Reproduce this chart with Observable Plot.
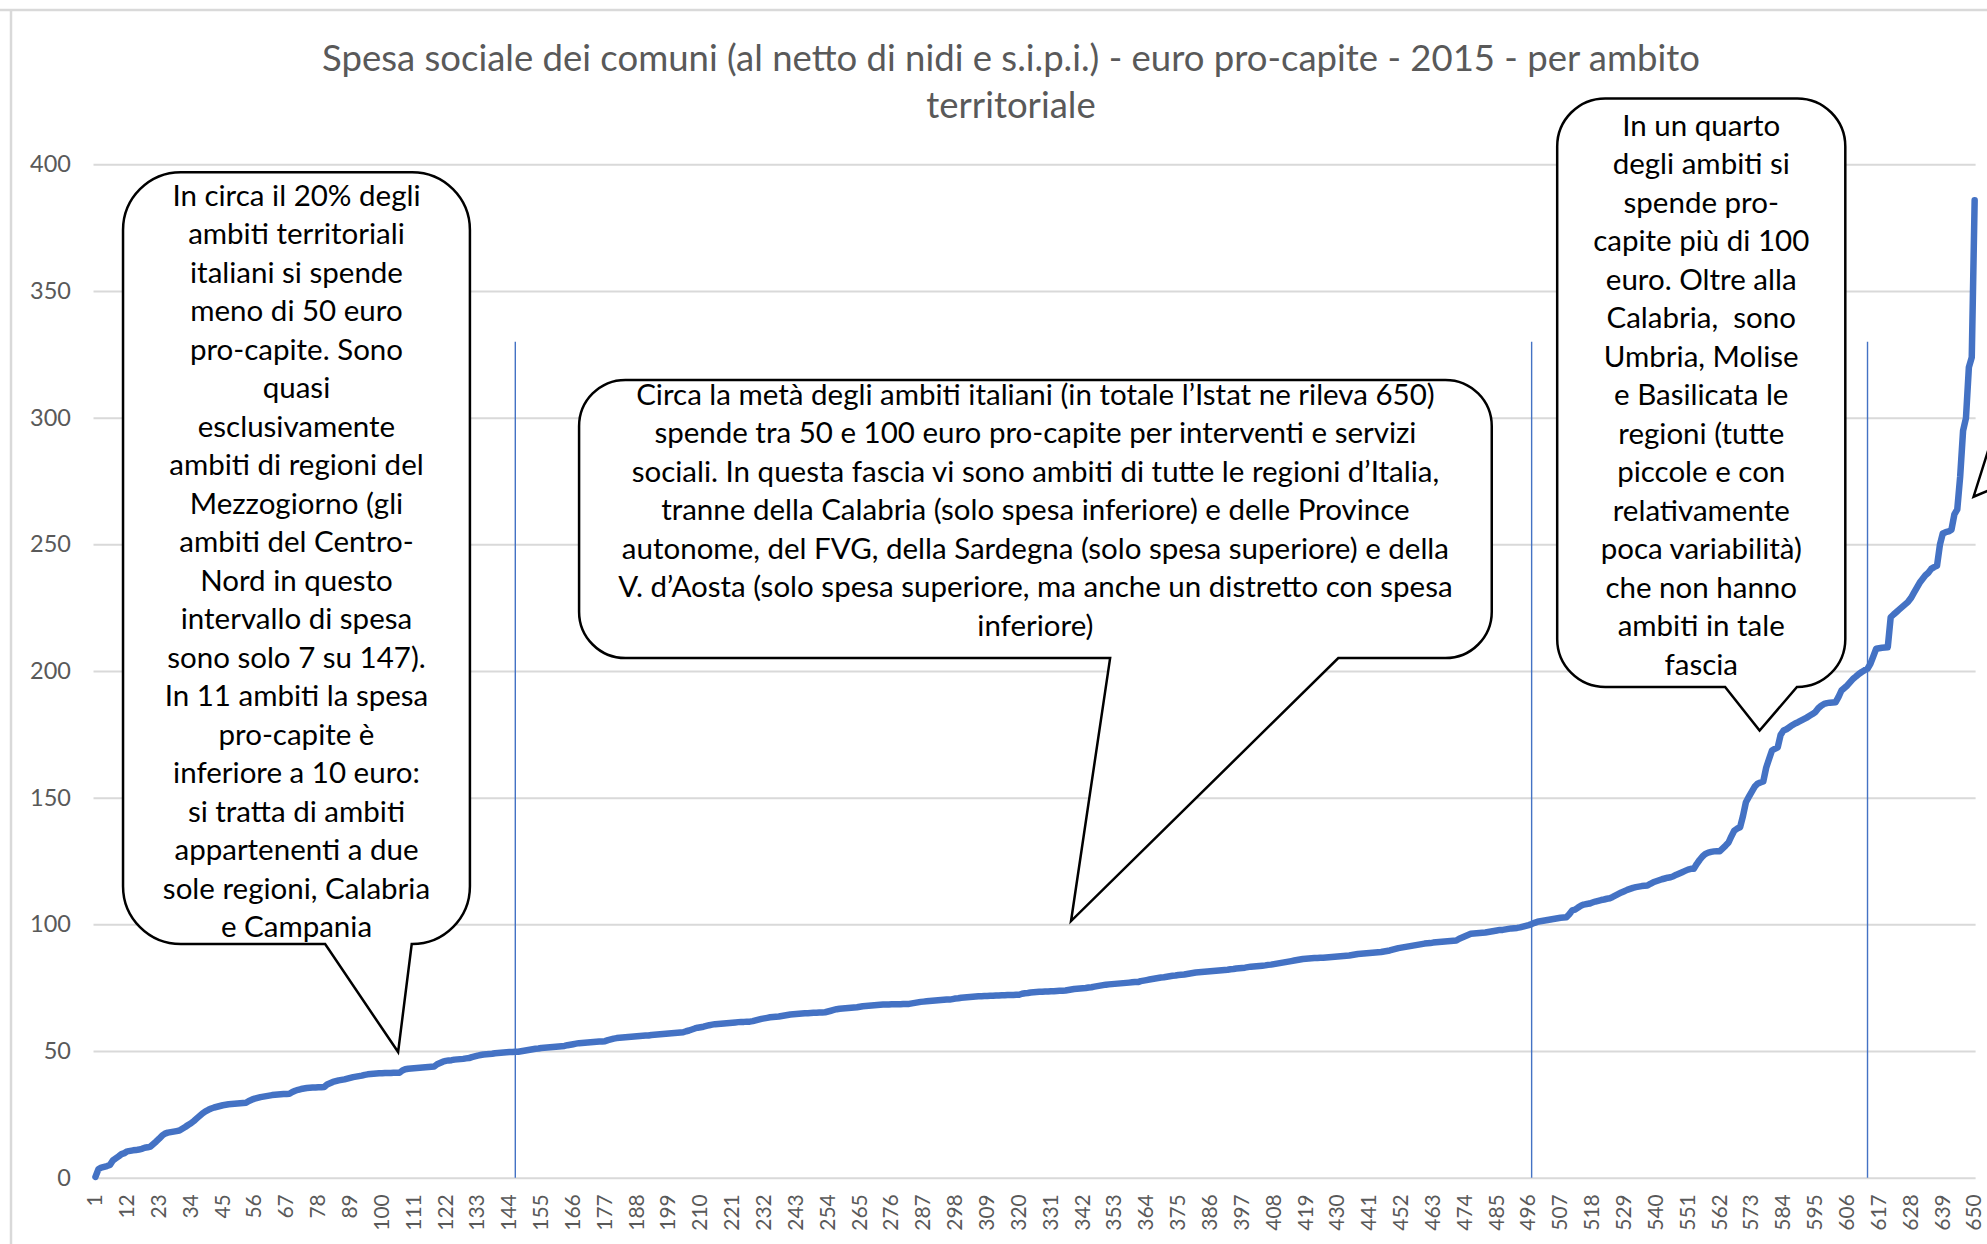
<!DOCTYPE html>
<html>
<head>
<meta charset="utf-8">
<script src="https://cdn.jsdelivr.net/npm/d3@7"></script>
<script src="https://cdn.jsdelivr.net/npm/@observablehq/plot@0.6"></script>
<style>
  html, body { margin: 0; padding: 0; background: #fff; }
  svg { display: block; }
</style>
</head>
<body>
<div id="chart"></div>
<script>
// Spesa sociale pro-capite per ambito territoriale (ordinati in modo crescente)
const spesa = [
  0.5, 3.5, 4.2, 4.5, 4.8, 5.2, 7.0, 7.8, 8.6, 9.5,
  9.9, 10.6, 10.8, 11.0, 11.1, 11.3, 11.6, 12.0, 12.2, 12.5,
  13.5, 14.5, 15.6, 16.8, 17.6, 18.0, 18.2, 18.4, 18.6, 18.8,
  19.5, 20.2, 21.0, 21.7, 22.6, 23.6, 24.6, 25.6, 26.4, 27.0,
  27.5, 27.9, 28.2, 28.5, 28.8, 29.0, 29.2, 29.3, 29.4, 29.5,
  29.6, 29.7, 29.8, 30.5, 31.0, 31.4, 31.7, 32.0, 32.2, 32.4,
  32.6, 32.8, 32.9, 33.0, 33.1, 33.2, 33.2, 33.3, 34.0, 34.5,
  34.9, 35.2, 35.4, 35.6, 35.7, 35.8, 35.8, 35.9, 35.9, 36.0,
  37.0, 37.5, 38.0, 38.3, 38.6, 38.8, 39.0, 39.3, 39.6, 39.9,
  40.1, 40.3, 40.5, 40.8, 41.0, 41.1, 41.2, 41.3, 41.4, 41.4,
  41.5, 41.5, 41.5, 41.6, 41.6, 41.6, 42.5, 43.0, 43.2, 43.3,
  43.4, 43.5, 43.6, 43.7, 43.8, 43.9, 44.0, 44.1, 45.0, 45.5,
  46.0, 46.3, 46.5, 46.6, 46.8, 46.9, 47.0, 47.1, 47.3, 47.4,
  47.8, 48.1, 48.4, 48.6, 48.8, 48.9, 49.0, 49.1, 49.3, 49.4,
  49.5, 49.6, 49.7, 49.8, 49.8, 49.9, 49.9, 50.1, 50.3, 50.5,
  50.7, 50.9, 51.1, 51.2, 51.4, 51.5, 51.6, 51.7, 51.8, 51.9,
  52.0, 52.1, 52.2, 52.5, 52.7, 52.9, 53.1, 53.3, 53.4, 53.5,
  53.6, 53.7, 53.8, 53.9, 54.0, 54.0, 54.1, 54.5, 54.8, 55.1,
  55.3, 55.4, 55.5, 55.6, 55.7, 55.8, 55.9, 56.0, 56.1, 56.2,
  56.3, 56.3, 56.5, 56.6, 56.7, 56.8, 56.9, 57.0, 57.1, 57.2,
  57.3, 57.4, 57.5, 57.6, 58.0, 58.3, 58.7, 59.1, 59.4, 59.6,
  59.8, 60.1, 60.4, 60.6, 60.8, 60.9, 61.0, 61.1, 61.2, 61.3,
  61.4, 61.5, 61.6, 61.7, 61.7, 61.8, 61.8, 62.0, 62.3, 62.6,
  62.9, 63.1, 63.3, 63.5, 63.6, 63.7, 63.8, 64.0, 64.2, 64.4,
  64.6, 64.7, 64.8, 64.9, 65.0, 65.1, 65.1, 65.2, 65.3, 65.3,
  65.4, 65.4, 65.5, 65.8, 66.1, 66.4, 66.7, 66.9, 67.0, 67.1,
  67.2, 67.3, 67.4, 67.5, 67.7, 67.9, 68.0, 68.1, 68.2, 68.3,
  68.4, 68.5, 68.6, 68.6, 68.6, 68.7, 68.7, 68.7, 68.7, 68.8,
  68.8, 68.8, 69.0, 69.2, 69.4, 69.6, 69.7, 69.8, 69.9, 70.0,
  70.1, 70.2, 70.3, 70.4, 70.5, 70.5, 70.7, 70.9, 71.0, 71.2,
  71.3, 71.4, 71.5, 71.6, 71.7, 71.8, 71.8, 71.9, 71.9, 72.0,
  72.0, 72.1, 72.1, 72.2, 72.2, 72.3, 72.3, 72.3, 72.4, 72.4,
  72.8, 73.0, 73.1, 73.3, 73.4, 73.5, 73.6, 73.6, 73.7, 73.7,
  73.8, 73.8, 73.9, 74.0, 74.0, 74.1, 74.3, 74.5, 74.7, 74.8,
  74.9, 75.0, 75.1, 75.3, 75.4, 75.6, 75.8, 76.0, 76.2, 76.4,
  76.5, 76.6, 76.7, 76.8, 76.9, 77.0, 77.1, 77.2, 77.3, 77.4,
  77.4, 77.8, 78.0, 78.2, 78.4, 78.6, 78.8, 79.0, 79.2, 79.3,
  79.5, 79.7, 79.9, 80.0, 80.2, 80.3, 80.4, 80.6, 80.8, 81.0,
  81.2, 81.3, 81.4, 81.5, 81.6, 81.7, 81.8, 81.9, 82.0, 82.1,
  82.2, 82.3, 82.5, 82.6, 82.8, 82.9, 83.0, 83.1, 83.3, 83.5,
  83.6, 83.7, 83.8, 83.9, 84.0, 84.2, 84.3, 84.5, 84.7, 84.9,
  85.1, 85.3, 85.5, 85.7, 85.9, 86.1, 86.3, 86.5, 86.6, 86.7,
  86.8, 86.9, 86.9, 87.0, 87.0, 87.1, 87.2, 87.3, 87.4, 87.5,
  87.6, 87.7, 87.8, 87.9, 88.1, 88.3, 88.5, 88.6, 88.7, 88.8,
  88.9, 89.0, 89.1, 89.2, 89.3, 89.5, 89.7, 89.9, 90.2, 90.5,
  90.8, 91.0, 91.2, 91.4, 91.6, 91.8, 92.0, 92.2, 92.4, 92.6,
  92.7, 92.8, 93.0, 93.1, 93.2, 93.3, 93.4, 93.5, 93.6, 93.7,
  93.8, 94.5, 95.0, 95.5, 96.0, 96.5, 96.6, 96.7, 96.8, 96.9,
  97.0, 97.2, 97.4, 97.6, 97.8, 98.0, 98.0, 98.2, 98.4, 98.6,
  98.7, 98.8, 99.0, 99.3, 99.6, 99.9, 100.3, 100.8, 101.2, 101.4,
  101.6, 101.8, 102.0, 102.2, 102.4, 102.6, 102.8, 102.9, 103.0, 104.2,
  105.7, 106.0, 106.8, 107.5, 108.0, 108.2, 108.4, 108.8, 109.2, 109.5,
  109.8, 110.0, 110.3, 110.5, 111.0, 111.6, 112.2, 112.8, 113.3, 113.8,
  114.2, 114.6, 114.9, 115.1, 115.3, 115.4, 115.5, 116.2, 116.8, 117.2,
  117.6, 118.0, 118.3, 118.6, 118.8, 119.2, 119.8, 120.3, 120.8, 121.3,
  121.8, 122.1, 122.1, 124.0, 125.6, 127.0, 128.0, 128.5, 128.8, 129.0,
  129.1, 129.1, 130.2, 131.3, 132.5, 135.0, 137.2, 138.0, 138.5, 143.0,
  148.4, 150.5, 152.5, 154.5, 155.7, 156.2, 156.6, 162.0, 165.5, 168.8,
  169.5, 170.1, 175.0, 176.7, 177.2, 178.0, 178.8, 179.5, 180.0, 180.6,
  181.2, 181.8, 182.5, 183.2, 184.0, 185.5, 186.5, 187.2, 187.5, 187.7,
  187.8, 187.9, 190.0, 192.5, 193.5, 194.5, 195.8, 197.1, 198.0, 199.0,
  199.8, 200.5, 201.1, 203.0, 206.0, 209.0, 209.2, 209.4, 209.5, 209.6,
  221.4, 222.5, 223.5, 224.5, 225.5, 226.5, 227.5, 229.0, 231.0, 233.0,
  235.0, 236.5, 238.0, 239.0, 240.5, 241.2, 241.7, 250.0, 254.5, 255.0,
  255.3, 256.0, 262.0, 264.0, 277.0, 295.0, 300.0, 320.0, 324.0, 386.0
];
const ambiti = spesa.map((_, i) => i + 1);

// Tick labels
const xTicks = d3.range(1, 651, 11);   // 1, 12, 23, ..., 650
const yTicks = d3.range(0, 401, 50);   // 0 .. 400

// Vertical separator lines (ambito index) and their top (euro)
const separatori = [146, 497, 613];
const separatoriTop = 330;

const titolo = [
  "Spesa sociale dei comuni (al netto di nidi e s.i.p.i.) - euro pro-capite - 2015 - per ambito",
  "territoriale"
];

// Callouts: box in data units [ambito0, ambito1, euroBottom, euroTop], pointer base (ambito) and tip (ambito, euro)
const callouts = [
  {
    box: [10.7, 130.5, 92.2, 396.9], base: [80.5, 110.4], tip: [105.7, 49.6], dy: 3,
    lines: ["In circa il 20% degli", "ambiti territoriali", "italiani si spende", "meno di 50 euro",
      "pro-capite. Sono", "quasi", "esclusivamente", "ambiti di regioni del", "Mezzogiorno (gli",
      "ambiti del Centro-", "Nord in questo", "intervallo di spesa", "sono solo 7 su 147).",
      "In 11 ambiti la spesa", "pro-capite è", "inferiore a 10 euro:", "si tratta di ambiti",
      "appartenenti a due", "sole regioni, Calabria", "e Campania"]
  },
  {
    box: [168.2, 483.4, 205.1, 314.9], base: [351.6, 430.4], tip: [338.1, 101.3], dy: -9,
    lines: ["Circa la metà degli ambiti italiani (in totale l’Istat ne rileva 650)",
      "spende tra 50 e 100 euro pro-capite per interventi e servizi",
      "sociali. In questa fascia vi sono ambiti di tutte le regioni d’Italia,",
      "tranne della Calabria (solo spesa inferiore) e delle Province",
      "autonome, del FVG, della Sardegna (solo spesa superiore) e della",
      "V. d’Aosta (solo spesa superiore, ma anche un distretto con spesa",
      "inferiore)"]
  },
  {
    box: [506, 605.5, 193.7, 426], base: [564, 588.8], tip: [575.9, 176.5], dy: 2,
    lines: ["In un quarto", "degli ambiti si", "spende pro-", "capite più di 100", "euro. Oltre alla",
      "Calabria,  sono", "Umbria, Molise", "e Basilicata le", "regioni (tutte", "piccole e con",
      "relativamente", "poca variabilità)", "che non hanno", "ambiti in tale", "fascia"]
  }
];
// Partially visible callout beyond the right edge (pointer on its left side)
const calloutDestra = { box: [655.6, 760, 150, 380], base: [289.8, 271.6], tip: [649.8, 268.8] };

const dati = ambiti.map((a, i) => ({ambito: a, spesa: spesa[i]}));

const W = 1987, H = 1244;
const plot = Plot.plot({
  width: W,
  height: H,
  marginLeft: 93.5,
  marginRight: 11.4,
  marginTop: 164.3,
  marginBottom: 66.3,
  style: {fontFamily: "Lato, 'Open Sans', sans-serif", background: "#fff", overflow: "hidden"},
  x: {domain: [0.5, 650.5], axis: null},
  y: {domain: [0, 400], axis: null},
  marks: [
    Plot.gridY(yTicks, {stroke: "#d9d9d9", strokeOpacity: 1, strokeWidth: 2}),
    Plot.axisY(yTicks, {tickSize: 0, tickPadding: 23, fontSize: 23.5, color: "#595959", label: null}),
    Plot.axisX(xTicks, {tickSize: 0, tickRotate: -90, tickPadding: 16, fontSize: 21, color: "#595959", label: null}),
    Plot.ruleX(separatori, {y1: 0, y2: separatoriTop, stroke: "#4472C4", strokeWidth: 1.4}),
    Plot.line(dati, {x: "ambito", y: "spesa", stroke: "#4472C4", strokeWidth: 6.5, strokeLinejoin: "round", strokeLinecap: "round"})
  ]
});

document.getElementById("chart").appendChild(plot);

const xs = plot.scale("x"), ys = plot.scale("y");
const svg = d3.select(plot);

// chart area border (top and left)
svg.insert("path", ":first-child")
  .attr("d", `M0,10 H${W} M11,10 V${H}`)
  .attr("fill", "none").attr("stroke", "#d9d9d9").attr("stroke-width", 2.5);

// title
const t = svg.append("text")
  .attr("text-anchor", "middle")
  .attr("fill", "#595959")
  .style("font-family", "Lato, 'Open Sans', sans-serif")
  .style("font-size", "36.5px");
titolo.forEach((l, i) => {
  t.append("tspan").attr("x", 1011).attr("y", 58 + i * 47).attr("dy", "0.35em").text(l);
});

function calloutPath(c) {
  const x0 = xs.apply(c.box[0]), x1 = xs.apply(c.box[1]);
  const yb = ys.apply(c.box[2]), yt = ys.apply(c.box[3]);
  const r = 0.1667 * Math.min(x1 - x0, yb - yt);
  const a = xs.apply(c.base[0]), b = Math.min(xs.apply(c.base[1]), x1 - r);
  const tx = xs.apply(c.tip[0]), ty = ys.apply(c.tip[1]);
  return {
    d: `M${x0 + r},${yt} H${x1 - r} A${r},${r} 0 0 1 ${x1},${yt + r} V${yb - r} A${r},${r} 0 0 1 ${x1 - r},${yb}` +
       ` H${b} L${tx},${ty} L${a},${yb} H${x0 + r} A${r},${r} 0 0 1 ${x0},${yb - r} V${yt + r} A${r},${r} 0 0 1 ${x0 + r},${yt} Z`,
    cx: (x0 + x1) / 2, cy: (yt + yb) / 2
  };
}

const g = svg.append("g");
callouts.forEach(c => {
  const p = calloutPath(c);
  g.append("path").attr("d", p.d).attr("fill", "#fff").attr("stroke", "#000").attr("stroke-width", 2.5).attr("stroke-linejoin", "miter");
  const lh = 38.5;
  const y0 = p.cy + c.dy - (c.lines.length - 1) * lh / 2;
  const tx = g.append("text").attr("text-anchor", "middle").attr("fill", "#000")
    .style("font-family", "Lato, 'Open Sans', sans-serif").style("font-size", "29.5px");
  c.lines.forEach((l, i) => {
    tx.append("tspan").attr("x", p.cx).attr("y", y0 + i * lh).attr("dy", "0.35em").text(l);
  });
});

// partially visible callout on the right edge
{
  const c = calloutDestra;
  const x0 = xs.apply(c.box[0]), x1 = xs.apply(c.box[1]);
  const yb = ys.apply(c.box[2]), yt = ys.apply(c.box[3]);
  const pa = ys.apply(c.base[0]), pb = ys.apply(c.base[1]);
  const tx = xs.apply(c.tip[0]), ty = ys.apply(c.tip[1]);
  g.append("path")
    .attr("d", `M${x0},${yt} H${x1} V${yb} H${x0} V${pb} L${tx},${ty} L${x0},${pa} Z`)
    .attr("fill", "#fff").attr("stroke", "#000").attr("stroke-width", 2.5);
}
</script>
</body>
</html>
